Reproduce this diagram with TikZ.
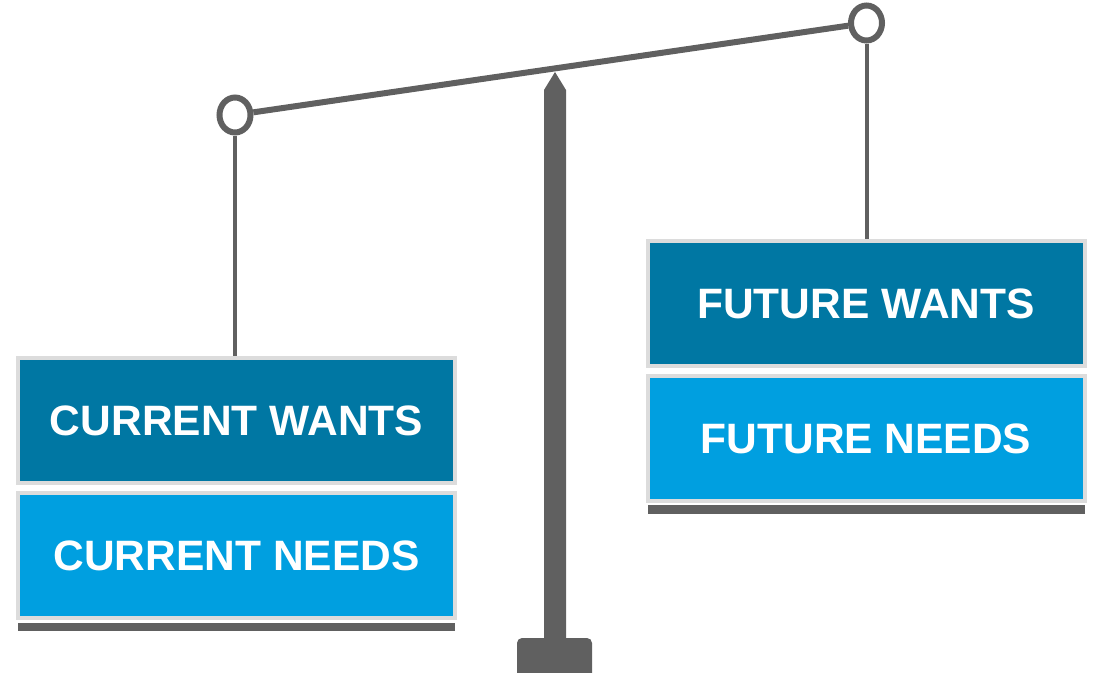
\documentclass[tikz,border=0pt]{standalone}
\usepackage{fontspec}
\newfontfamily\labelfont{Liberation Sans}
\usetikzlibrary{shapes.geometric}
\definecolor{beamgray}{HTML}{606060}
\definecolor{frame}{HTML}{DCDCDC}
\definecolor{wantblue}{HTML}{0077A3}
\definecolor{needblue}{HTML}{009FE0}
\tikzset{
  panel/.style={draw=frame, line width=4pt, minimum width=437pt, minimum height=125pt,
    inner sep=0pt, text=white, font=\labelfont\bfseries\fontsize{42.5}{42.5}\selectfont},
  wants/.style={panel, fill=wantblue},
  needs/.style={panel, fill=needblue},
  ring/.style={ellipse, draw=beamgray, line width=6pt, minimum width=31pt, minimum height=35pt, inner sep=0pt},
  cord/.style={draw=beamgray, line width=4pt},
  beam/.style={draw=beamgray, line width=6pt},
}
\begin{document}
\begin{tikzpicture}[x=1pt,y=-1pt]
\useasboundingbox (0,0) rectangle (1094,672);
% stand: base and post with pointed top
\fill[beamgray, rounded corners=5pt] (517,638) rectangle (592,690);
\fill[beamgray] (544,640) -- (544,90) -- (555,72) -- (566,90) -- (566,640) -- cycle;
% pans
\node[wants] (cw) at (236.5,420.5) {\raisebox{-1.5pt}{CURRENT WANTS}};
\node[needs] (cn) at (236.5,555.5) {\raisebox{-1.5pt}{CURRENT NEEDS}};
\node[wants] (fw) at (866,303.5) {\raisebox{-1.5pt}{FUTURE WANTS}};
\node[needs] (fn) at (866,438.5) {\raisebox{-1.5pt}{FUTURE NEEDS}};
% shelves under the pans
\fill[beamgray] (18,623) rectangle (455,631);
\fill[beamgray] (648,505) rectangle (1085,514);
% rings and beam
\node[ring] (lring) at (235,115) {};
\node[ring] (rring) at (866.5,23) {};
\draw[beam] (lring) -- (rring);
\draw[cord] (lring.south) -- (cw.north -| lring.south);
\draw[cord] (rring.south) -- (fw.north -| rring.south);
\end{tikzpicture}
\end{document}
